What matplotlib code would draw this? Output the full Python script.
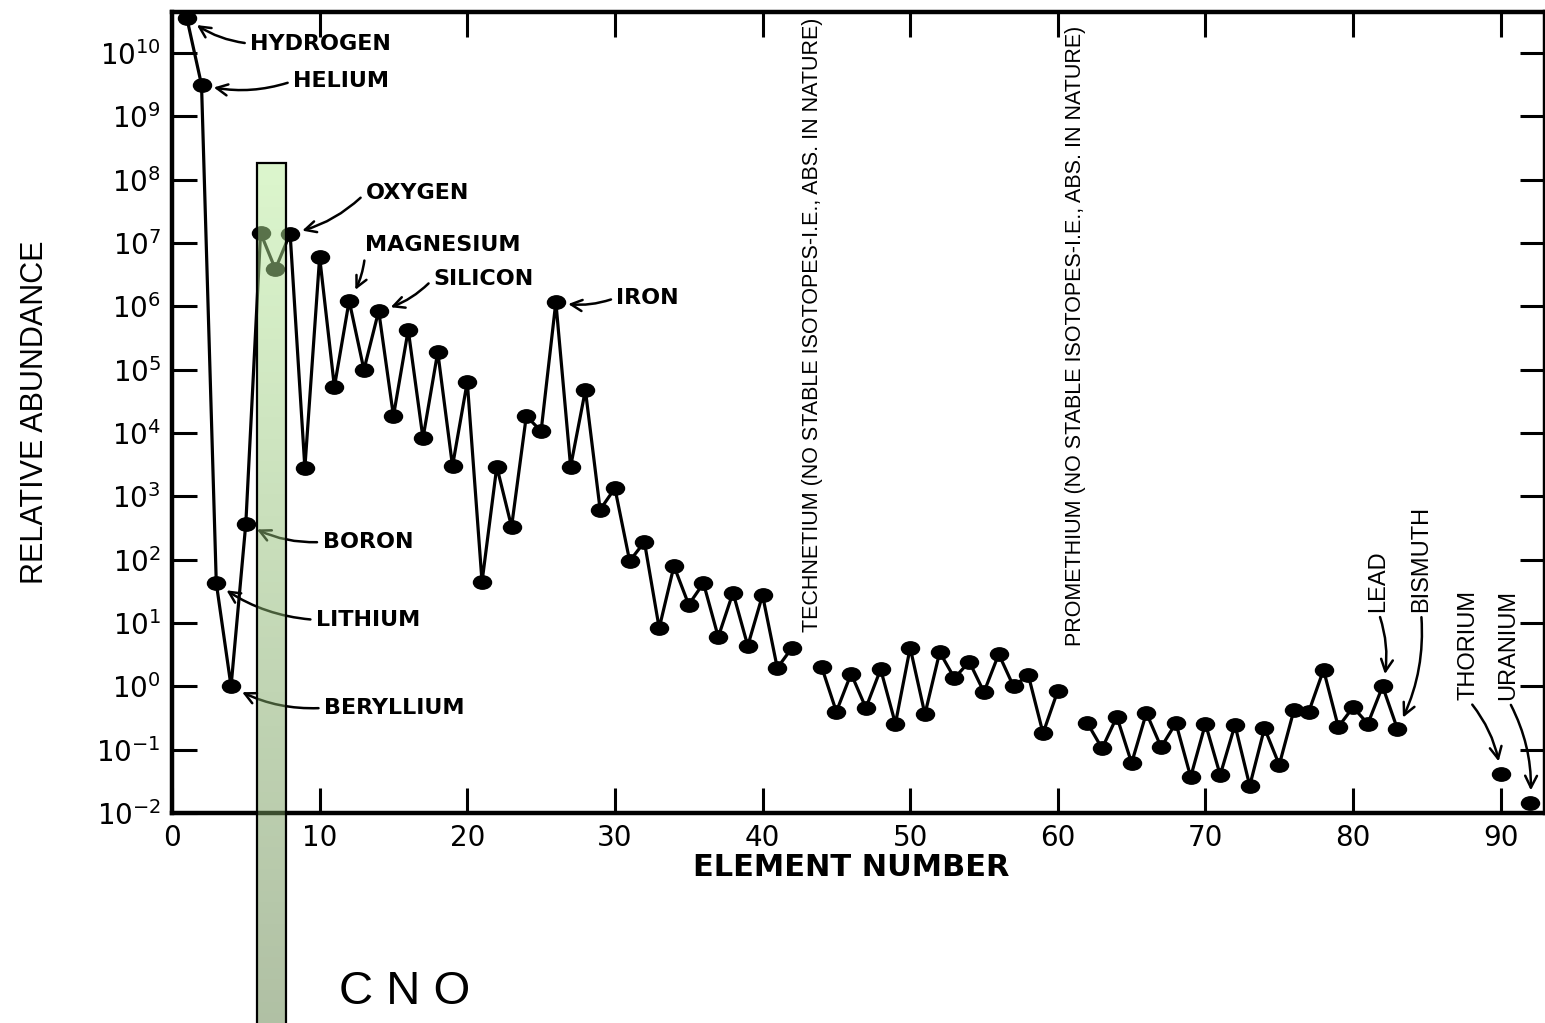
"""Relative cosmic abundance of the elements vs atomic number, CNO band highlighted."""

import matplotlib

matplotlib.use("Agg")
import matplotlib.pyplot as plt
import numpy as np
from matplotlib import font_manager
from matplotlib.markers import MarkerStyle
from matplotlib.patches import Rectangle
from matplotlib.path import Path
from matplotlib.transforms import Affine2D

# element numbers and log10 relative abundance
z_elem = [1, 2, 3, 4, 5, 6, 7, 8, 9, 10, 11, 12, 13, 14, 15, 16, 17, 18, 19, 20,
          21, 22, 23, 24, 25, 26, 27, 28, 29, 30, 31, 32, 33, 34, 35, 36, 37, 38,
          39, 40, 41, 42, 44, 45, 46, 47, 48, 49, 50, 51, 52, 53, 54, 55, 56, 57,
          58, 59, 60, 62, 63, 64, 65, 66, 67, 68, 69, 70, 71, 72, 73, 74, 75, 76,
          77, 78, 79, 80, 81, 82, 83, 90, 92]
log_abund = [10.56, 9.50, 1.63, 0.00, 2.57, 7.16, 6.59, 7.15, 3.45, 6.78,
             4.73, 6.09, 5.00, 5.93, 4.27, 5.63, 3.92, 5.28, 3.48, 4.81,
             1.65, 3.47, 2.52, 4.27, 4.03, 6.07, 3.47, 4.68, 2.79, 3.13,
             1.98, 2.28, 0.92, 1.90, 1.29, 1.63, 0.78, 1.48, 0.64, 1.44,
             0.29, 0.61, 0.31, -0.40, 0.20, -0.34, 0.27, -0.59, 0.61, -0.44,
             0.54, 0.13, 0.39, -0.09, 0.51, 0.00, 0.18, -0.74, -0.07,
             -0.58, -0.98, -0.48, -1.21, -0.42, -0.96, -0.58, -1.43, -0.59, -1.40,
             -0.61, -1.57, -0.66, -1.24, -0.37, -0.40, 0.26, -0.64, -0.33, -0.59,
             0.00, -0.67, -1.38, -1.84]
# runs of elements joined by a line (Tc and Pm missing, Th/U stand alone)
line_runs = [(1, 42), (44, 60), (62, 83)]

# labelled elements: name, Z, label position (x, log y), rotated?
labels = [
    ("HYDROGEN", 1, 5.3, 10.15, False),
    ("HELIUM", 2, 8.2, 9.56, False),
    ("OXYGEN", 8, 13.1, 7.79, False),
    ("MAGNESIUM", 12, 13.1, 6.97, False),
    ("SILICON", 14, 17.7, 6.44, False),
    ("IRON", 26, 30.1, 6.14, False),
    ("BORON", 5, 10.2, 2.28, False),
    ("LITHIUM", 3, 9.75, 1.05, False),
    ("BERYLLIUM", 4, 10.3, -0.34, False),
    ("LEAD", 82, 81.7, 1.18, True),
    ("BISMUTH", 83, 84.6, 1.18, True),
    ("THORIUM", 90, 87.8, -0.21, True),
    ("URANIUM", 92, 90.5, -0.21, True),
]
missing_notes = [
    ("TECHNETIUM (NO STABLE ISOTOPES-I.E., ABS. IN NATURE)", 43.4, 0.86),
    ("PROMETHIUM (NO STABLE ISOTOPES-I.E., ABS. IN NATURE)", 61.2, 0.63),
]
cno_span = (5.75, 7.71)
cno_top = 10 ** 8.27

names = {f.name for f in font_manager.fontManager.ttflist}
narrow = "Liberation Sans Narrow" if "Liberation Sans Narrow" in names else "Liberation Sans"
plt.rcParams["font.family"] = "DejaVu Sans"
plt.rcParams["mathtext.default"] = "regular"

W, H = 1545, 1023
fig = plt.figure(figsize=(W / 100, H / 100), dpi=100)
ax = fig.add_axes([172 / W, 1 - 813 / H, (W - 172) / W, (813 - 12) / H])
ax.set_yscale("log")
ax.set_xlim(0, 93)
ax.set_ylim(1e-2, 10 ** 10.65)

abund = 10 ** np.array(log_abund)
z_arr = np.array(z_elem)
for lo, hi in line_runs:
    m = (z_arr >= lo) & (z_arr <= hi)
    ax.plot(z_arr[m], abund[m], color="black", lw=2.3, zorder=2)

blob = MarkerStyle(Path.unit_circle().transformed(Affine2D().scale(1.35, 1.0)))
ax.plot(z_arr, abund, ls="none", marker=blob, ms=13, color="black", zorder=3)

# green CNO band, light at top, greyer toward the bottom of the figure
log_lo, log_hi = -5.5, np.log10(cno_top)
edges = np.linspace(log_hi, log_lo, 80)
c_top = np.array([185, 237, 155]) / 255
c_bot = np.array([97, 129, 73]) / 255
for i in range(len(edges) - 1):
    t = i / (len(edges) - 2)
    col = c_top * (1 - t) + c_bot * t
    ax.add_patch(Rectangle((cno_span[0], 10 ** edges[i + 1]), cno_span[1] - cno_span[0],
                           10 ** edges[i] - 10 ** edges[i + 1], facecolor=col, alpha=0.5,
                           edgecolor="none", antialiased=False, clip_on=False, zorder=5))
ax.add_patch(Rectangle((cno_span[0], 10 ** log_lo), cno_span[1] - cno_span[0],
                       cno_top - 10 ** log_lo, fill=False, edgecolor="black", lw=1.6,
                       clip_on=False, zorder=6))

arrow = dict(arrowstyle="->,head_length=0.5,head_width=0.25", color="black", lw=1.8,
             shrinkA=2, shrinkB=9, connectionstyle="arc3,rad=-0.15")
for name, z, tx, ty, rot in labels:
    if rot:
        ax.annotate(name, xy=(z, abund[z_elem.index(z)]), xytext=(tx, 10 ** ty),
                    rotation=90, ha="center", va="bottom", fontsize=17, family=narrow,
                    arrowprops=dict(arrow, relpos=(0.5, 0)), zorder=4)
    else:
        ax.annotate(name, xy=(z, abund[z_elem.index(z)]), xytext=(tx, 10 ** ty),
                    ha="left", va="center", fontsize=16, fontweight="bold",
                    arrowprops=dict(arrow, relpos=(0, 0.5)), zorder=4)

for note, tx, ty in missing_notes:
    ax.text(tx, 10 ** ty, note, rotation=90, ha="center", va="bottom",
            fontsize=15.5, family=narrow)

for side in ["left", "bottom", "top", "right"]:
    ax.spines[side].set_linewidth(3.2)
ax.set_xticks(range(0, 100, 10))
ax.set_xticklabels([str(v) for v in range(0, 100, 10)])
ax.set_yticks([10.0 ** k for k in range(-2, 11)])
ax.set_yticklabels([f"$10^{{{k}}}$" for k in range(-2, 11)])
ax.minorticks_off()
ax.tick_params(direction="in", top=True, right=True, length=18, width=2.2,
               labelsize=20, pad=8)

fig.text(851 / W, 1 - 868 / H, "ELEMENT NUMBER", ha="center", va="center",
         fontsize=22, fontweight="bold")
fig.text(35 / W, 1 - 412 / H, "RELATIVE ABUNDANCE", ha="center", va="center",
         rotation=90, fontsize=22, family=narrow)
fig.text(405 / W, 1 - 992 / H, "C N O", ha="center", va="center", fontsize=34,
         family="Liberation Sans")

fig.savefig("out.png", dpi=100)
